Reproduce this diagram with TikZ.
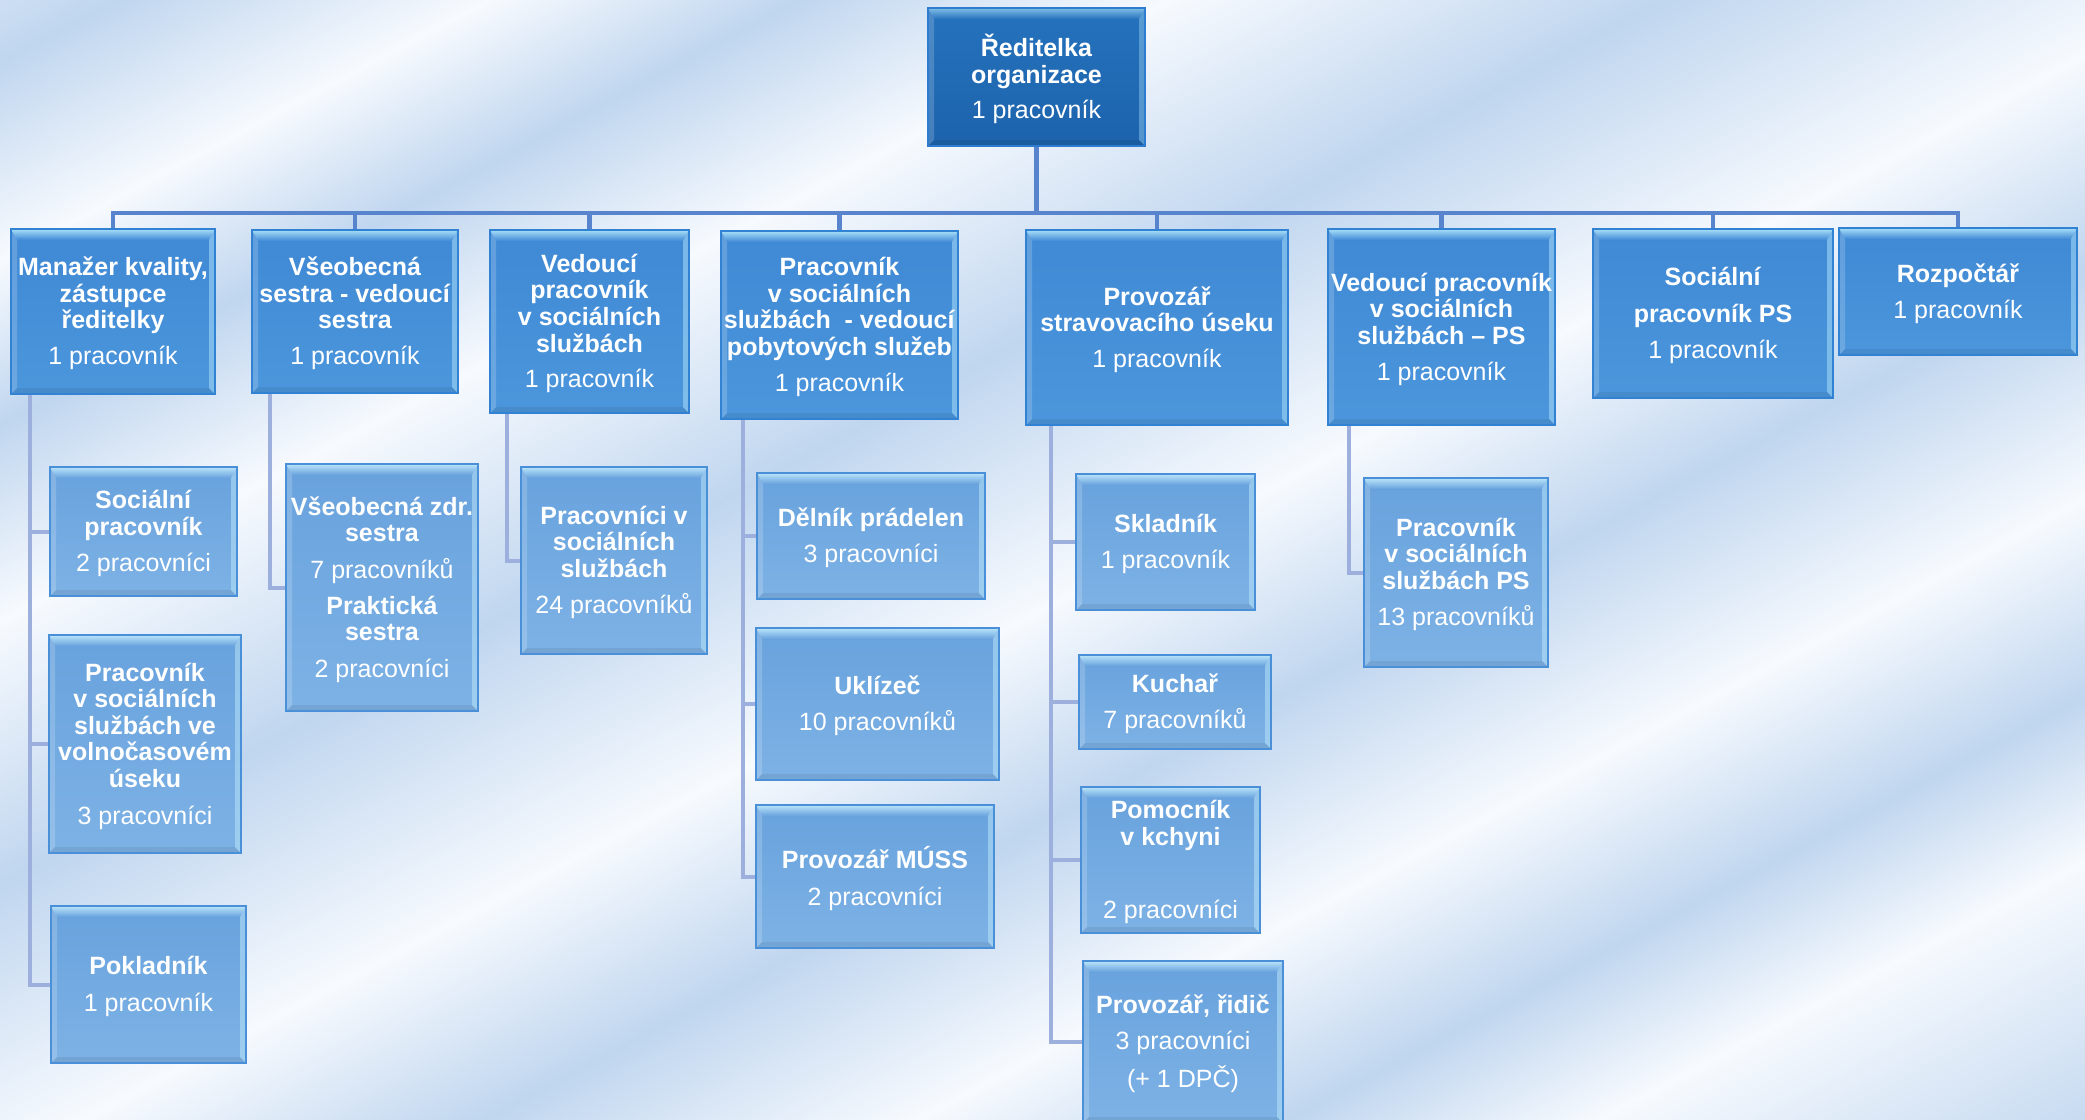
\documentclass[tikz,border=0pt]{standalone}
\usepackage{fontspec}
\setmainfont{Liberation Sans}
\usetikzlibrary{fit}
\definecolor{bgA}{HTML}{C0D6EF}
\definecolor{bgW}{HTML}{F7FAFE}
\definecolor{rTop}{HTML}{2672BD}
\definecolor{rBot}{HTML}{1C63AC}
\definecolor{rLine}{HTML}{2E7CD0}
\definecolor{aTop}{HTML}{3F89D5}
\definecolor{aBot}{HTML}{4C96DC}
\definecolor{aLine}{HTML}{3282D4}
\definecolor{bTop}{HTML}{68A2DD}
\definecolor{bBot}{HTML}{7DB2E5}
\definecolor{bLine}{HTML}{4A90D8}
\definecolor{bevL}{HTML}{A8DEF8}
\definecolor{busC}{HTML}{5784CC}
\definecolor{subC}{HTML}{9DB0DD}
\pgfdeclarehorizontalshading{bgstreak}{100bp}{color(0bp)=(bgW); color(10bp)=(bgW); color(18bp)=(bgA); color(24bp)=(bgW); color(29bp)=(bgA); color(35bp)=(bgW); color(43bp)=(bgA); color(51.5bp)=(bgW); color(58bp)=(bgA); color(65bp)=(bgW); color(71bp)=(bgA); color(76bp)=(bgW); color(85bp)=(bgA); color(100bp)=(bgW)}
\tikzset{
  bevel/.style 2 args={path picture={
    \path (path picture bounding box.north west) coordinate (ppnw)
          (path picture bounding box.north east) coordinate (ppne)
          (path picture bounding box.south west) coordinate (ppsw)
          (path picture bounding box.south east) coordinate (ppse);
    \shade[top color=#1, bottom color=#2] (ppnw) -- (ppne) -- ([shift={(-3pt,-5.5pt)}]ppne) -- ([shift={(3pt,-5.5pt)}]ppnw) -- cycle;
    \fill[white, opacity=0.18] (ppnw) -- ([shift={(3pt,-5.5pt)}]ppnw) -- ([shift={(3pt,3pt)}]ppsw) -- (ppsw) -- cycle;
    \fill[#1, opacity=0.55] (ppne) -- ([shift={(-3pt,-5.5pt)}]ppne) -- ([shift={(-3pt,3pt)}]ppse) -- (ppse) -- cycle;
    \fill[black, opacity=0.07] (ppsw) -- ([shift={(3pt,3pt)}]ppsw) -- ([shift={(-3pt,3pt)}]ppse) -- (ppse) -- cycle;
  }},
  box/.style={inner sep=0pt, line width=0.8pt},
  txt/.style={inner sep=0pt, align=center, text=white,
    font=\fontsize{12.5}{13.3}\selectfont},
  lvl0/.style={box, top color=rTop, bottom color=rBot, draw=rLine, bevel={bevL!70!rTop}{rTop}},
  lvl1/.style={box, top color=aTop, bottom color=aBot, draw=aLine, bevel={bevL}{aTop}},
  lvl2/.style={box, top color=bTop, bottom color=bBot, draw=bLine, bevel={bevL!80!white}{bTop}},
  busline/.style={draw=busC, line width=2.2pt},
  subline/.style={draw=subC, line width=2pt},
}
% box node (fit to corners) plus its centred text
\newcommand{\orgbox}[4]{%
  \node[#1, fit={#2}] (#3) {};
  \node[txt] (#3t) at ([yshift=-1pt]#3.center) {#4};}
\begin{document}
\begin{tikzpicture}[x=0.5pt, y=-0.5pt]
\shade[shading=bgstreak, shading angle=-62] (0,0) rectangle (2085,1120);
\useasboundingbox (0,0) rectangle (2085,1120);

% root
\orgbox{lvl0}{(928,8) (1145,146)}{root}{\textbf{Ředitelka}\\\textbf{organizace}\\[4.6pt]1 pracovník}

% level 1
\orgbox{lvl1}{(11,229) (215,394)}{n1}{\textbf{Manažer kvality,}\\\textbf{zástupce}\\\textbf{ředitelky}\\[4.6pt]1 pracovník}
\orgbox{lvl1}{(252,230) (458,393)}{n2}{\textbf{Všeobecná}\\\textbf{sestra - vedoucí}\\\textbf{sestra}\\[4.6pt]1 pracovník}
\orgbox{lvl1}{(490,230) (689,413)}{n3}{\textbf{Vedoucí}\\\textbf{pracovník}\\\textbf{v sociálních}\\\textbf{službách}\\[4.6pt]1 pracovník}
\orgbox{lvl1}{(721,231) (958,419)}{n4}{\textbf{Pracovník}\\\textbf{v sociálních}\\\textbf{službách~ - vedoucí}\\\textbf{pobytových služeb}\\[4.6pt]1 pracovník}
\orgbox{lvl1}{(1026,230) (1288,425)}{n5}{\textbf{Provozář}\\\textbf{stravovacího úseku}\\[4.6pt]1 pracovník}
\orgbox{lvl1}{(1328,229) (1555,425)}{n6}{\textbf{Vedoucí pracovník}\\\textbf{v sociálních}\\\textbf{službách – PS}\\[4.6pt]1 pracovník}
\orgbox{lvl1}{(1593,229) (1833,398)}{n7}{\textbf{Sociální}\\[4.8pt]\textbf{pracovník PS}\\[4.8pt]1 pracovník}
\orgbox{lvl1}{(1839,228) (2077,355)}{n8}{\textbf{Rozpočtář}\\[4.6pt]1 pracovník}

% level 2
\orgbox{lvl2}{(50,467) (237,596)}{c11}{\textbf{Sociální}\\\textbf{pracovník}\\[5pt]2 pracovníci}
\orgbox{lvl2}{(49,635) (241,853)}{c12}{\textbf{Pracovník}\\\textbf{v sociálních}\\\textbf{službách ve}\\\textbf{volnočasovém}\\\textbf{úseku}\\[5pt]3 pracovníci}
\orgbox{lvl2}{(51,906) (246,1063)}{c13}{\textbf{Pokladník}\\[5pt]1 pracovník}
\orgbox{lvl2}{(286,464) (478,711)}{c21}{\textbf{Všeobecná zdr.}\\\textbf{sestra}\\[4.8pt]7 pracovníků\\[4.8pt]\textbf{Praktická}\\\textbf{sestra}\\[4.8pt]2 pracovníci}
\orgbox{lvl2}{(521,467) (707,654)}{c31}{\textbf{Pracovníci v}\\\textbf{sociálních}\\\textbf{službách}\\[5pt]24 pracovníků}
\orgbox{lvl2}{(757,473) (985,599)}{c41}{\textbf{Dělník prádelen}\\[4.8pt]3 pracovníci}
\orgbox{lvl2}{(756,628) (999,780)}{c42}{\textbf{Uklízeč}\\[4.8pt]10 pracovníků}
\orgbox{lvl2}{(756,805) (994,948)}{c43}{\textbf{Provozář MÚSS}\\[4.8pt]2 pracovníci}
\orgbox{lvl2}{(1076,474) (1255,610)}{c51}{\textbf{Skladník}\\[4.8pt]1 pracovník}
\orgbox{lvl2}{(1079,655) (1271,749)}{c52}{\textbf{Kuchař}\\[4.8pt]7 pracovníků}
\orgbox{lvl2}{(1081,787) (1260,933)}{c53}{\textbf{Pomocník}\\\textbf{v kchyni}\\[23pt]2 pracovníci}
\orgbox{lvl2}{(1083,961) (1283,1123)}{c54}{\textbf{Provozář, řidič}\\[4.7pt]3 pracovníci\\[4.7pt](+ 1 DPČ)}
\orgbox{lvl2}{(1364,478) (1548,667)}{c61}{\textbf{Pracovník}\\\textbf{v sociálních}\\\textbf{službách PS}\\[5pt]13 pracovníků}

% connectors root -> level 1
\foreach \n in {n1,n2,n3,n4,n5,n6,n7,n8}
  \draw[busline] (root.south) -- ++(0,66) -| (\n.north);

% connectors level 1 -> level 2
\draw[subline] ([xshift=10pt]n1.south west) |- (c11.west);
\draw[subline] ([xshift=10pt]n1.south west) |- (c12.west);
\draw[subline] ([xshift=10pt]n1.south west) |- (c13.west);
\draw[subline] ([xshift=9.5pt]n2.south west) |- (c21.west);
\draw[subline] ([xshift=9pt]n3.south west) |- (c31.west);
\draw[subline] ([xshift=11.5pt]n4.south west) |- (c41.west);
\draw[subline] ([xshift=11.5pt]n4.south west) |- (c42.west);
\draw[subline] ([xshift=11.5pt]n4.south west) |- (c43.west);
\draw[subline] ([xshift=13pt]n5.south west) |- (c51.west);
\draw[subline] ([xshift=13pt]n5.south west) |- (c52.west);
\draw[subline] ([xshift=13pt]n5.south west) |- (c53.west);
\draw[subline] ([xshift=13pt]n5.south west) |- (c54.west);
\draw[subline] ([xshift=11pt]n6.south west) |- (c61.west);
\end{tikzpicture}
\end{document}
